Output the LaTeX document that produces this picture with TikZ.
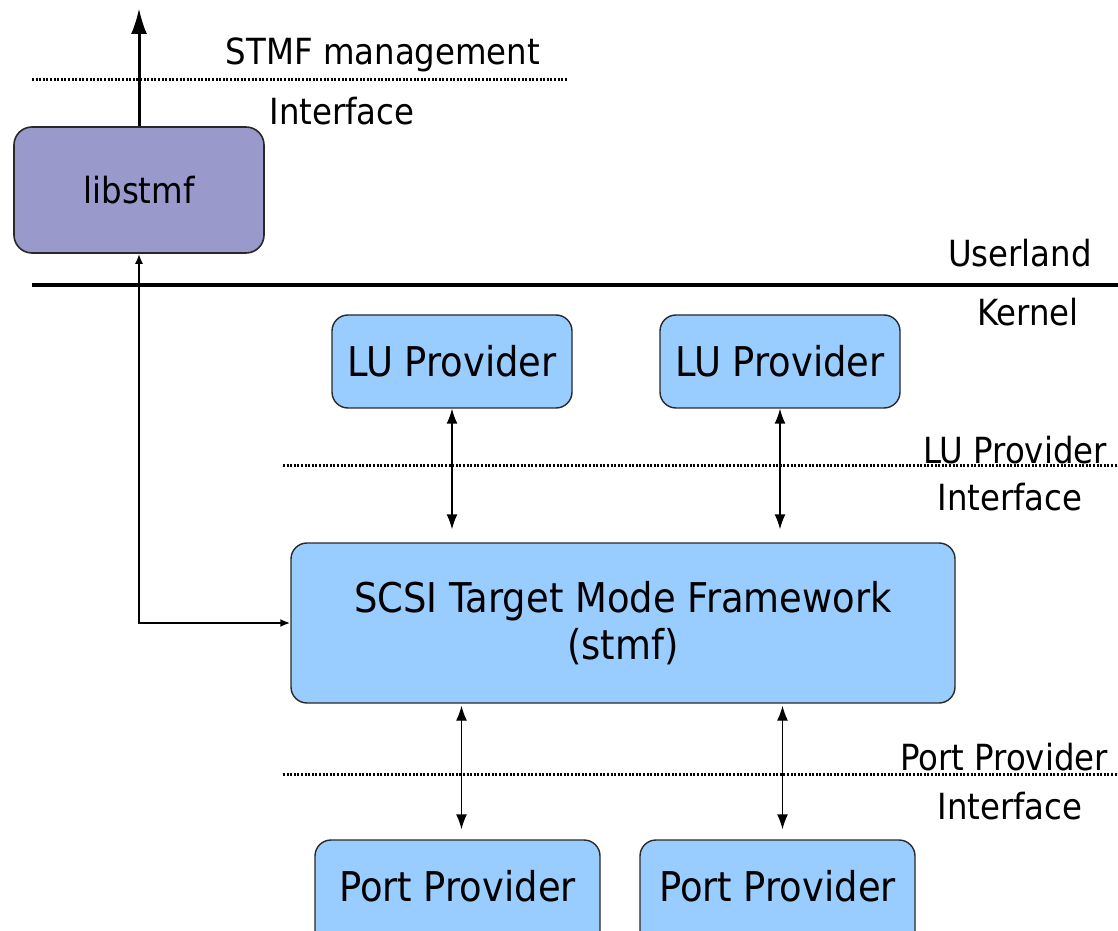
\documentclass[tikz,border=0pt]{standalone}
\usepackage{fontspec}
\setmainfont{DejaVu Sans}[FakeStretch=0.9]
\usetikzlibrary{arrows.meta}
\definecolor{libfill}{RGB}{153,153,204}
\definecolor{boxfill}{RGB}{153,204,255}
\definecolor{boxline}{RGB}{40,40,40}
\tikzset{
  libbox/.style={draw=boxline, line width=1.6pt, fill=libfill, rounded corners=18pt, inner sep=0pt, font=\fontsize{36}{43}\selectfont},
  bluebox/.style={draw=boxline, line width=1.4pt, fill=boxfill, rounded corners=16pt, inner sep=0pt, font=\fontsize{41}{47}\selectfont, align=center},
  boxtext/.style={inner sep=0pt, font=\fontsize{41}{47}\selectfont},
  lbl/.style={inner sep=0pt, anchor=base, font=\fontsize{36}{43}\selectfont},
  sep/.style={line width=3pt, dash pattern=on 2pt off 1.6pt},
  solidsep/.style={line width=4pt},
  biarrow/.style={line width=1.4pt, {Latex[length=15pt,width=11pt]}-{Latex[length=15pt,width=11pt]}},
  mgmtarrow/.style={line width=3pt, -{Latex[length=26pt,width=16pt]}},
  libarrow/.style={line width=2.8pt, {Latex[length=10pt,width=8pt]}-{Latex[length=10pt,width=8pt]}},
}
\begin{document}
\begin{tikzpicture}[x=1pt,y=1pt]
\clip (0,0) rectangle (1118,930);
\fill[white] (0,0) rectangle (1118,930);

% separators
\draw[sep] (32,850) coordinate (s1a) -- (568,850) coordinate (s1b);
\draw[solidsep] (32,645) coordinate (s2a) -- (1118,645) coordinate (s2b);
\draw[sep] (283,464) coordinate (s3a) -- (1118,464) coordinate (s3b);
\draw[sep] (283,156) coordinate (s4a) -- (1118,156) coordinate (s4b);

% boxes
\node[libbox, minimum width=250pt, minimum height=126pt] (lib) at (139,740) {libstmf};
\node[bluebox, minimum width=240pt, minimum height=93pt] (lu1) at (452,568.5) {LU Provider};
\node[bluebox, minimum width=240pt, minimum height=93pt] (lu2) at (780,568.5) {LU Provider};
\node[bluebox, minimum width=664pt, minimum height=160pt] (stmf) at (623,307)
  {SCSI Target Mode Framework\\(stmf)};
\node[bluebox, minimum width=285pt, minimum height=120pt] (pp1) at (457.5,30) {};
\node[bluebox, minimum width=275pt, minimum height=120pt] (pp2) at (777.5,30) {};
\node[boxtext] (pp1t) at ([yshift=-47pt]pp1.north) {Port Provider};
\node[boxtext] (pp2t) at ([yshift=-47pt]pp2.north) {Port Provider};

% labels
\node[lbl] (lmgmt) at (383,865) {STMF management};
\node[lbl] (lif1) at (342,805) {Interface};
\node[lbl] (luser) at (1020,663) {Userland};
\node[lbl] (lkern) at (1028,604) {Kernel};
\node[lbl] (llu) at (1015,467) {LU Provider};
\node[lbl] (lif2) at (1010,420) {Interface};
\node[lbl] (lpp) at (1004,160) {Port Provider};
\node[lbl] (lif3) at (1010,111) {Interface};

% connectors
\coordinate (mtop) at (lib.north |- 0,922);
\draw[mgmtarrow] (lib.north) -- (mtop);
\draw[libarrow] (lib.south) |- (stmf.west);
\draw[biarrow] (lu1.south) -- ([yshift=13pt]lu1.south |- stmf.north);
\draw[biarrow] (lu2.south) -- ([yshift=13pt]lu2.south |- stmf.north);
\draw[biarrow] ([xshift=4pt,yshift=-2pt]pp1.north |- stmf.south) -- ([xshift=4pt,yshift=10pt]pp1.north);
\draw[biarrow] ([xshift=5pt,yshift=-2pt]pp2.north |- stmf.south) -- ([xshift=5pt,yshift=10pt]pp2.north);
\end{tikzpicture}
\end{document}
